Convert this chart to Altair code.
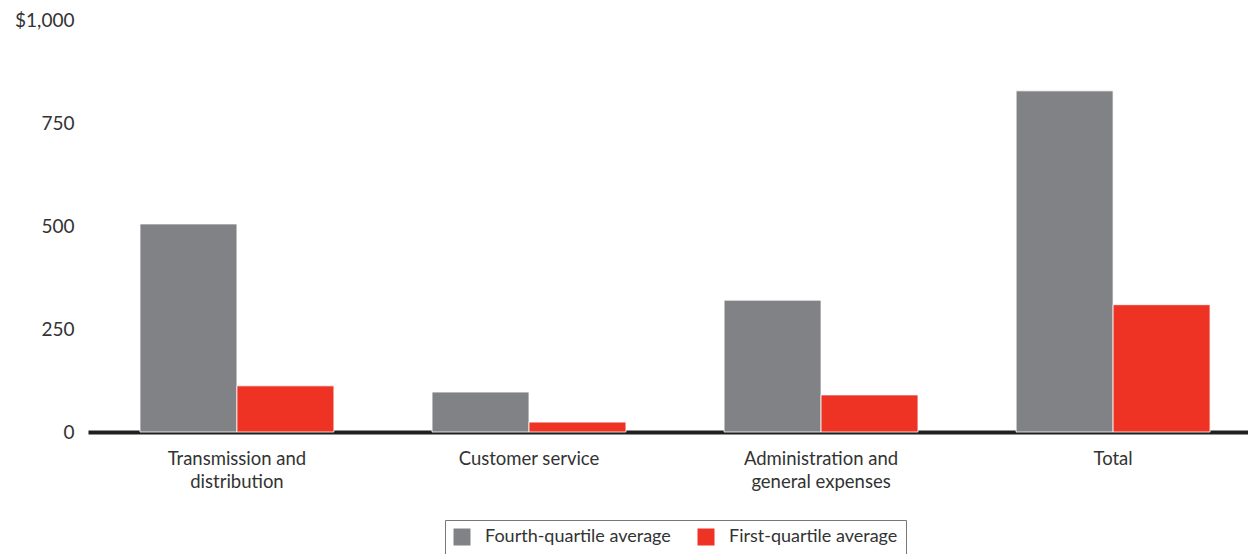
import altair as alt
import pandas as pd

categories = ["Transmission and|distribution", "Customer service",
              "Administration and|general expenses", "Total"]
fourth_quartile = [505, 97, 320, 828]
first_quartile = [112, 24, 90, 309]
series = ["Fourth-quartile average", "First-quartile average"]
colors = ["#818286", "#EE3224"]

rows = []
for c, a, b in zip(categories, fourth_quartile, first_quartile):
    rows.append({"category": c, "series": series[0], "value": a})
    rows.append({"category": c, "series": series[1], "value": b})
df = pd.DataFrame(rows)

FONT = "Lato"

bars = alt.Chart(df).mark_bar(stroke="white", strokeWidth=0.8).encode(
    x=alt.X("category:N", sort=categories, title=None,
            scale=alt.Scale(paddingInner=0.336, paddingOuter=0.154, align=0.578),
            axis=alt.Axis(labelAngle=0, labelExpr="split(datum.label, '|')",
                          labelFontSize=18.5, labelColor="#333333", labelFont=FONT,
                          labelPadding=17, labelLineHeight=23, ticks=False,
                          domainColor="#231F20", domainWidth=4)),
    xOffset=alt.XOffset("series:N", sort=series, scale=alt.Scale(paddingInner=0, paddingOuter=0)),
    y=alt.Y("value:Q", title=None,
            scale=alt.Scale(domain=[0, 1000], nice=False),
            axis=alt.Axis(values=[0, 250, 500, 750, 1000],
                          labelExpr="datum.value == 1000 ? '$1,000' : format(datum.value, ',')",
                          labelFontSize=19, labelColor="#333333", labelFont=FONT,
                          labelPadding=14, ticks=False, domain=False, grid=False)),
    color=alt.Color("series:N", sort=series,
                    scale=alt.Scale(domain=series, range=colors),
                    legend=alt.Legend(title=None, orient="none", direction="horizontal",
                                      legendX=357, legendY=500,
                                      symbolType="square", symbolSize=289,
                                      symbolStrokeWidth=0, labelLimit=0,
                                      labelFontSize=18, labelFont=FONT, labelColor="#333333",
                                      strokeColor="#777777", padding=8,
                                      columnPadding=26, labelOffset=14)),
)

chart = bars.properties(
    width=1160, height=412,
    padding={"left": 6, "top": 3, "right": 0, "bottom": 0},
).configure_view(stroke=None)

chart.save("out.html", embed_options={"renderer": "svg", "actions": False})
